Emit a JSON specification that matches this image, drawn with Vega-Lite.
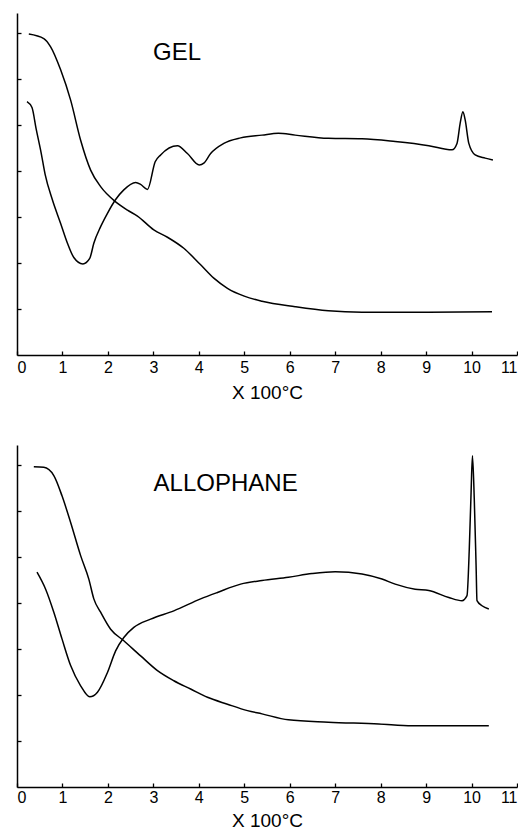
{
  "$schema": "https://vega.github.io/schema/vega-lite/v6.json",
  "padding": {"left": 16, "top": 13, "right": 0, "bottom": 0},
  "background": "white",
  "spacing": 43,
  "config": {
    "view": {"stroke": null},
    "axis": {"domainColor": "black", "domainWidth": 1.5, "tickColor": "black", "tickWidth": 1.3, "tickSize": -4, "grid": false, "labelColor": "black", "titleColor": "black", "labelFont": "Liberation Sans", "titleFont": "Liberation Sans", "labelFontSize": 16, "titleFontSize": 19, "titleFontWeight": "normal"}
  },
  "datasets": {
    "curves": [
      {"panel":"GEL","curve":"TG","x":0.26,"y":6.98},{"panel":"GEL","curve":"TG","x":0.59,"y":6.88},{"panel":"GEL","curve":"TG","x":0.74,"y":6.70},{"panel":"GEL","curve":"TG","x":0.96,"y":6.2},{"panel":"GEL","curve":"TG","x":1.18,"y":5.54},{"panel":"GEL","curve":"TG","x":1.40,"y":4.67},{"panel":"GEL","curve":"TG","x":1.62,"y":4.02},{"panel":"GEL","curve":"TG","x":1.84,"y":3.66},{"panel":"GEL","curve":"TG","x":2.17,"y":3.33},{"panel":"GEL","curve":"TG","x":2.43,"y":3.15},{"panel":"GEL","curve":"TG","x":2.65,"y":3.02},{"panel":"GEL","curve":"TG","x":3.01,"y":2.72},{"panel":"GEL","curve":"TG","x":3.31,"y":2.56},{"panel":"GEL","curve":"TG","x":3.67,"y":2.32},{"panel":"GEL","curve":"TG","x":4.04,"y":1.96},{"panel":"GEL","curve":"TG","x":4.33,"y":1.67},{"panel":"GEL","curve":"TG","x":4.63,"y":1.45},{"panel":"GEL","curve":"TG","x":5.0,"y":1.28},{"panel":"GEL","curve":"TG","x":5.39,"y":1.17},{"panel":"GEL","curve":"TG","x":6.12,"y":1.05},{"panel":"GEL","curve":"TG","x":6.85,"y":0.96},{"panel":"GEL","curve":"TG","x":7.59,"y":0.93},{"panel":"GEL","curve":"TG","x":8.32,"y":0.93},{"panel":"GEL","curve":"TG","x":9.05,"y":0.93},{"panel":"GEL","curve":"TG","x":10.45,"y":0.94},
      {"panel":"GEL","curve":"DTA","x":0.22,"y":5.51},{"panel":"GEL","curve":"DTA","x":0.33,"y":5.38},{"panel":"GEL","curve":"DTA","x":0.42,"y":4.92},{"panel":"GEL","curve":"DTA","x":0.53,"y":4.40},{"panel":"GEL","curve":"DTA","x":0.62,"y":3.92},{"panel":"GEL","curve":"DTA","x":0.78,"y":3.37},{"panel":"GEL","curve":"DTA","x":0.96,"y":2.86},{"panel":"GEL","curve":"DTA","x":1.11,"y":2.43},{"panel":"GEL","curve":"DTA","x":1.25,"y":2.12},{"panel":"GEL","curve":"DTA","x":1.45,"y":1.98},{"panel":"GEL","curve":"DTA","x":1.60,"y":2.10},{"panel":"GEL","curve":"DTA","x":1.69,"y":2.43},{"panel":"GEL","curve":"DTA","x":1.84,"y":2.79},{"panel":"GEL","curve":"DTA","x":1.99,"y":3.08},{"panel":"GEL","curve":"DTA","x":2.17,"y":3.38},{"panel":"GEL","curve":"DTA","x":2.35,"y":3.59},{"panel":"GEL","curve":"DTA","x":2.61,"y":3.75},{"panel":"GEL","curve":"DTA","x":2.72,"y":3.71},{"panel":"GEL","curve":"DTA","x":2.87,"y":3.60},{"panel":"GEL","curve":"DTA","x":3.04,"y":4.20},{"panel":"GEL","curve":"DTA","x":3.16,"y":4.35},{"panel":"GEL","curve":"DTA","x":3.53,"y":4.55},{"panel":"GEL","curve":"DTA","x":3.75,"y":4.38},{"panel":"GEL","curve":"DTA","x":4.01,"y":4.13},{"panel":"GEL","curve":"DTA","x":4.11,"y":4.17},{"panel":"GEL","curve":"DTA","x":4.26,"y":4.38},{"panel":"GEL","curve":"DTA","x":4.55,"y":4.60},{"panel":"GEL","curve":"DTA","x":4.92,"y":4.72},{"panel":"GEL","curve":"DTA","x":5.39,"y":4.78},{"panel":"GEL","curve":"DTA","x":5.75,"y":4.82},{"panel":"GEL","curve":"DTA","x":6.12,"y":4.78},{"panel":"GEL","curve":"DTA","x":6.85,"y":4.71},{"panel":"GEL","curve":"DTA","x":7.59,"y":4.70},{"panel":"GEL","curve":"DTA","x":8.32,"y":4.64},{"panel":"GEL","curve":"DTA","x":9.06,"y":4.55},{"panel":"GEL","curve":"DTA","x":9.57,"y":4.46},{"panel":"GEL","curve":"DTA","x":9.68,"y":4.60},{"panel":"GEL","curve":"DTA","x":9.75,"y":5.04},{"panel":"GEL","curve":"DTA","x":9.81,"y":5.29},{"panel":"GEL","curve":"DTA","x":9.86,"y":5.11},{"panel":"GEL","curve":"DTA","x":9.94,"y":4.60},{"panel":"GEL","curve":"DTA","x":10.08,"y":4.35},{"panel":"GEL","curve":"DTA","x":10.30,"y":4.28},{"panel":"GEL","curve":"DTA","x":10.47,"y":4.24},
      {"panel":"ALLOPHANE","curve":"TG","x":0.37,"y":6.96},{"panel":"ALLOPHANE","curve":"TG","x":0.59,"y":6.95},{"panel":"ALLOPHANE","curve":"TG","x":0.81,"y":6.77},{"panel":"ALLOPHANE","curve":"TG","x":0.99,"y":6.33},{"panel":"ALLOPHANE","curve":"TG","x":1.18,"y":5.75},{"panel":"ALLOPHANE","curve":"TG","x":1.40,"y":5.03},{"panel":"ALLOPHANE","curve":"TG","x":1.58,"y":4.52},{"panel":"ALLOPHANE","curve":"TG","x":1.69,"y":4.09},{"panel":"ALLOPHANE","curve":"TG","x":1.84,"y":3.80},{"panel":"ALLOPHANE","curve":"TG","x":2.06,"y":3.43},{"panel":"ALLOPHANE","curve":"TG","x":2.35,"y":3.18},{"panel":"ALLOPHANE","curve":"TG","x":2.72,"y":2.85},{"panel":"ALLOPHANE","curve":"TG","x":3.09,"y":2.53},{"panel":"ALLOPHANE","curve":"TG","x":3.45,"y":2.31},{"panel":"ALLOPHANE","curve":"TG","x":3.82,"y":2.13},{"panel":"ALLOPHANE","curve":"TG","x":4.19,"y":1.95},{"panel":"ALLOPHANE","curve":"TG","x":4.63,"y":1.80},{"panel":"ALLOPHANE","curve":"TG","x":5.07,"y":1.66},{"panel":"ALLOPHANE","curve":"TG","x":5.39,"y":1.59},{"panel":"ALLOPHANE","curve":"TG","x":5.97,"y":1.46},{"panel":"ALLOPHANE","curve":"TG","x":6.85,"y":1.41},{"panel":"ALLOPHANE","curve":"TG","x":7.96,"y":1.37},{"panel":"ALLOPHANE","curve":"TG","x":8.69,"y":1.33},{"panel":"ALLOPHANE","curve":"TG","x":9.42,"y":1.33},{"panel":"ALLOPHANE","curve":"TG","x":10.38,"y":1.33},
      {"panel":"ALLOPHANE","curve":"DTA","x":0.44,"y":4.67},{"panel":"ALLOPHANE","curve":"DTA","x":0.63,"y":4.30},{"panel":"ALLOPHANE","curve":"DTA","x":0.81,"y":3.80},{"panel":"ALLOPHANE","curve":"DTA","x":0.99,"y":3.22},{"panel":"ALLOPHANE","curve":"DTA","x":1.18,"y":2.64},{"panel":"ALLOPHANE","curve":"DTA","x":1.40,"y":2.20},{"panel":"ALLOPHANE","curve":"DTA","x":1.60,"y":1.96},{"panel":"ALLOPHANE","curve":"DTA","x":1.77,"y":2.06},{"panel":"ALLOPHANE","curve":"DTA","x":1.99,"y":2.49},{"panel":"ALLOPHANE","curve":"DTA","x":2.17,"y":2.96},{"panel":"ALLOPHANE","curve":"DTA","x":2.35,"y":3.25},{"panel":"ALLOPHANE","curve":"DTA","x":2.57,"y":3.47},{"panel":"ALLOPHANE","curve":"DTA","x":2.94,"y":3.65},{"panel":"ALLOPHANE","curve":"DTA","x":3.45,"y":3.83},{"panel":"ALLOPHANE","curve":"DTA","x":4.04,"y":4.09},{"panel":"ALLOPHANE","curve":"DTA","x":4.41,"y":4.23},{"panel":"ALLOPHANE","curve":"DTA","x":4.92,"y":4.41},{"panel":"ALLOPHANE","curve":"DTA","x":5.39,"y":4.49},{"panel":"ALLOPHANE","curve":"DTA","x":5.97,"y":4.56},{"panel":"ALLOPHANE","curve":"DTA","x":6.49,"y":4.64},{"panel":"ALLOPHANE","curve":"DTA","x":7.0,"y":4.68},{"panel":"ALLOPHANE","curve":"DTA","x":7.59,"y":4.63},{"panel":"ALLOPHANE","curve":"DTA","x":8.03,"y":4.52},{"panel":"ALLOPHANE","curve":"DTA","x":8.32,"y":4.41},{"panel":"ALLOPHANE","curve":"DTA","x":8.76,"y":4.30},{"panel":"ALLOPHANE","curve":"DTA","x":9.06,"y":4.27},{"panel":"ALLOPHANE","curve":"DTA","x":9.50,"y":4.12},{"panel":"ALLOPHANE","curve":"DTA","x":9.79,"y":4.05},{"panel":"ALLOPHANE","curve":"DTA","x":9.90,"y":4.16},{"panel":"ALLOPHANE","curve":"DTA","x":9.95,"y":5.17},{"panel":"ALLOPHANE","curve":"DTA","x":9.99,"y":6.41},{"panel":"ALLOPHANE","curve":"DTA","x":10.02,"y":7.20},{"panel":"ALLOPHANE","curve":"DTA","x":10.06,"y":6.26},{"panel":"ALLOPHANE","curve":"DTA","x":10.10,"y":4.81},{"panel":"ALLOPHANE","curve":"DTA","x":10.12,"y":4.05},{"panel":"ALLOPHANE","curve":"DTA","x":10.23,"y":3.94},{"panel":"ALLOPHANE","curve":"DTA","x":10.38,"y":3.87}
    ],
    "labels": [
      {"panel":"GEL","label":"GEL","x":3.52,"y":6.42},
      {"panel":"ALLOPHANE","label":"ALLOPHANE","x":4.59,"y":6.43}
    ]
  },
  "vconcat": [
    {
      "width": 500, "height": 342,
      "layer": [
        {
          "data": {"name": "curves"},
          "transform": [{"filter": "datum.panel === 'GEL'"}],
          "mark": {"type": "line", "color": "black", "strokeWidth": 1.5, "interpolate": "monotone"},
          "encoding": {
            "x": {"field": "x", "type": "quantitative", "scale": {"domain": [0, 11], "nice": false}, "axis": {"values": [0,1,2,3,4,5,6,7,8,9,10,11], "title": "X 100°C", "titlePadding": 8, "labelFontSize": 16, "titleFontSize": 19, "labelPadding": 8}},
            "y": {"field": "y", "type": "quantitative", "scale": {"domain": [0, 7.435], "nice": false}, "axis": {"values": [1,2,3,4,5,6,7], "labels": false, "title": null}},
            "detail": {"field": "curve"}
          }
        },
        {
          "data": {"name": "labels"},
          "transform": [{"filter": "datum.panel === 'GEL'"}],
          "mark": {"type": "text", "font": "Liberation Sans", "fontSize": 24, "align": "center", "baseline": "alphabetic", "color": "black"},
          "encoding": {
            "x": {"field": "x", "type": "quantitative"},
            "y": {"field": "y", "type": "quantitative"},
            "text": {"field": "label"}
          }
        }
      ]
    },
    {
      "width": 500, "height": 342,
      "layer": [
        {
          "data": {"name": "curves"},
          "transform": [{"filter": "datum.panel === 'ALLOPHANE'"}],
          "mark": {"type": "line", "color": "black", "strokeWidth": 1.5, "interpolate": "monotone"},
          "encoding": {
            "x": {"field": "x", "type": "quantitative", "scale": {"domain": [0, 11], "nice": false}, "axis": {"values": [0,1,2,3,4,5,6,7,8,9,10,11], "title": "X 100°C", "titlePadding": 6, "labelFontSize": 16, "titleFontSize": 19, "labelPadding": 6}},
            "y": {"field": "y", "type": "quantitative", "scale": {"domain": [0, 7.435], "nice": false}, "axis": {"values": [1,2,3,4,5,6,7], "labels": false, "title": null}},
            "detail": {"field": "curve"}
          }
        },
        {
          "data": {"name": "labels"},
          "transform": [{"filter": "datum.panel === 'ALLOPHANE'"}],
          "mark": {"type": "text", "font": "Liberation Sans", "fontSize": 24, "align": "center", "baseline": "alphabetic", "color": "black"},
          "encoding": {
            "x": {"field": "x", "type": "quantitative"},
            "y": {"field": "y", "type": "quantitative"},
            "text": {"field": "label"}
          }
        }
      ]
    }
  ]
}
